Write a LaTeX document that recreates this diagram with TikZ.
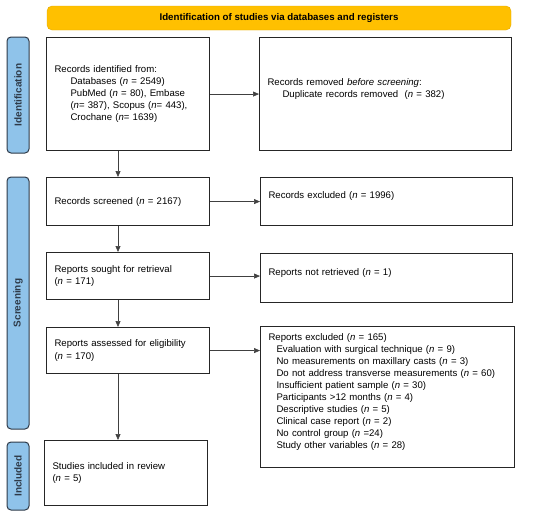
\documentclass[tikz,border=0pt]{standalone}
\usepackage{fontspec}
\setmainfont{Liberation Sans}
\usetikzlibrary{arrows.meta}
\definecolor{headfill}{HTML}{FFC000}
\definecolor{headedge}{HTML}{E3A900}
\definecolor{stagefill}{HTML}{8FC3EA}
\definecolor{stageedge}{HTML}{2E3A48}
\tikzset{
  box/.style={draw=black!85,line width=1.1pt,align=left,anchor=north west,
    inner xsep=8pt,inner ysep=2pt,font=\fontsize{9.6}{12.1}\selectfont},
  stage/.style={draw=stageedge,fill=stagefill,line width=1pt,rounded corners=4pt,
    rotate=90,minimum height=22pt,inner sep=0pt,text=stageedge,
    font=\fontsize{10}{12}\selectfont\bfseries},
  flow/.style={draw=black!75,line width=0.6pt,-{Triangle[length=6pt,width=5pt]}}
}
\begin{document}
\begin{tikzpicture}[x=1pt,y=-1pt]
  \useasboundingbox (0,0) rectangle (550,517);
  % header and stages
  \node[draw=headedge,fill=headfill,rounded corners=5pt,minimum width=464pt,minimum height=24pt,
    font=\fontsize{9.7}{11}\selectfont\bfseries] (head) at (279,18) {Identification of studies via databases and registers};
  \node[stage,minimum width=116pt] (ident) at (18,95) {Identification};
  \node[stage,minimum width=252pt] (screen) at (18,303) {Screening};
  \node[stage,minimum width=68pt] (incl) at (18,476) {Included};
  % left column
  \node[box,text width=147pt,minimum height=113pt] (found) at (46,37)
    {Records identified from:\\
     \hspace*{16pt}Databases (\textit{n} = 2549)\\
     \hspace*{16pt}PubMed (\textit{n} = 80), Embase\\
     \hspace*{16pt}(\textit{n}= 387), Scopus (\textit{n}= 443),\\
     \hspace*{16pt}Crochane (\textit{n}= 1639)};
  \node[box,text width=147pt,minimum height=48pt] (screened) at (46,177)
    {Records screened (\textit{n} = 2167)};
  \node[box,text width=147pt,minimum height=47pt] (sought) at (46,252)
    {Reports sought for retrieval\\(\textit{n} = 171)};
  \node[box,text width=147pt,minimum height=46pt] (assessed) at (46,327)
    {Reports assessed for eligibility\\(\textit{n} = 170)};
  \node[box,text width=147pt,minimum height=65pt] (included) at (44,440)
    {Studies included in review\\(\textit{n} = 5)};
  % right column
  \node[box,text width=236pt,minimum height=113pt] (removed) at (259,37)
    {Records removed \textit{before screening}:\\
     \hspace*{15pt}Duplicate records removed \ (\textit{n} = 382)\\\mbox{}};
  \node[box,text width=236pt,minimum height=48pt] (excluded) at (260,177)
    {Records excluded (\textit{n} = 1996)\\\mbox{}};
  \node[box,text width=236pt,minimum height=49pt] (notret) at (260,253)
    {Reports not retrieved (\textit{n} = 1)\\\mbox{}};
  \node[box,text width=238pt,minimum height=141pt] (repexcl) at (260,326)
    {Reports excluded (\textit{n} = 165)\\
     \hspace*{8pt}Evaluation with surgical technique (\textit{n} = 9)\\
     \hspace*{8pt}No measurements on maxillary casts (\textit{n} = 3)\\
     \hspace*{8pt}Do not address transverse measurements (\textit{n} = 60)\\
     \hspace*{8pt}Insufficient patient sample (\textit{n} = 30)\\
     \hspace*{8pt}Participants >12 months (\textit{n} = 4)\\
     \hspace*{8pt}Descriptive studies (\textit{n} = 5)\\
     \hspace*{8pt}Clinical case report (\textit{n} = 2)\\
     \hspace*{8pt}No control group (\textit{n} =24)\\
     \hspace*{8pt}Study other variables (\textit{n} = 28)\\\mbox{}};
  % connectors
  \coordinate (spine) at (118,0);
  \draw[flow] (found.south -| spine) -- (screened.north -| spine);
  \draw[flow] (screened.south -| spine) -- (sought.north -| spine);
  \draw[flow] (sought.south -| spine) -- (assessed.north -| spine);
  \draw[flow] (assessed.south -| spine) -- (included.north -| spine);
  \draw[flow] (found.east) -- (found.east -| removed.west);
  \draw[flow] (screened.east) -- (screened.east -| excluded.west);
  \draw[flow] (sought.east) -- (sought.east -| notret.west);
  \draw[flow] (assessed.east) -- (assessed.east -| repexcl.west);
\end{tikzpicture}
\end{document}
